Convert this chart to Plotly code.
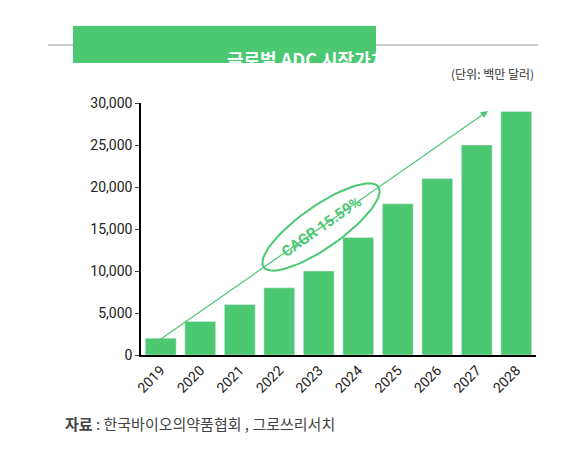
import math
import plotly.graph_objects as go

years = ["2019", "2020", "2021", "2022", "2023", "2024", "2025", "2026", "2027", "2028"]
values = [2000, 4000, 6000, 8000, 10000, 14000, 18000, 21000, 25000, 29000]
y_ticks = [0, 5000, 10000, 15000, 20000, 25000, 30000]

GREEN = "#4cc873"
L, R, T, B = 133, 52, 95, 106
W, H = 580, 453
pw, ph = W - L - R, H - T - B

def px2paper(x, y):
    return (x - L) / pw, (H - B - y) / ph

fig = go.Figure(go.Bar(x=years, y=values, marker_color=GREEN, width=0.78))

# rotated ellipse around the CAGR label, built in pixels then mapped to paper
cx, cy, a, b, ang = 313, 219, 70, 21, math.radians(-35)
pts = []
for i in range(73):
    t = 2 * math.pi * i / 72
    ex, ey = a * math.cos(t), b * math.sin(t)
    pts.append(px2paper(cx + ex * math.cos(ang) - ey * math.sin(ang),
                        cy + ex * math.sin(ang) + ey * math.cos(ang)))
path = "M " + " L ".join(f"{x:.4f},{y:.4f}" for x, y in pts) + " Z"

gx0, gy = px2paper(40, 37)
gx1, _ = px2paper(530, 37)
bx0, by0 = px2paper(65, 55)
bx1, by1 = px2paper(368, 18)
ax1, ay1 = px2paper(480, 103)

fig.update_layout(
    width=W, height=H, margin=dict(l=L, r=R, t=T, b=B),
    plot_bgcolor="white", paper_bgcolor="white", showlegend=False,
    font=dict(family="Noto Sans CJK KR", size=14, color="#222"),
    shapes=[
        dict(type="line", xref="paper", yref="paper", x0=gx0, x1=gx1, y0=gy, y1=gy,
             line=dict(color="#bbbbbb", width=1.5)),
        dict(type="rect", xref="paper", yref="paper", x0=bx0, x1=bx1, y0=by0, y1=by1,
             fillcolor=GREEN, line=dict(width=0)),
    ],
    annotations=[
        dict(xref="paper", yref="paper", x=ax1, y=ay1, ax=150 - 480, ay=333 - 103,
             showarrow=True, arrowhead=2, arrowsize=1.2, arrowwidth=1.2,
             arrowcolor=GREEN, text=""),
        dict(xref="paper", yref="paper", x=(bx0 + bx1) / 2, y=(by0 + by1) / 2,
             text="<b>글로벌 ADC 시장가치</b>", showarrow=False,
             font=dict(color="white", size=18)),
        dict(xref="paper", yref="paper", x=px2paper(528, 0)[0], y=px2paper(0, 55)[1],
             xanchor="right", text="(단위: 백만 달러)", showarrow=False,
             font=dict(size=12, color="#333")),
        dict(xref="paper", yref="paper", x=px2paper(55, 0)[0], y=px2paper(0, 428)[1],
             xanchor="left", text="<b>자료</b> : 한국바이오의약품협회 , 그로쓰리서치",
             showarrow=False, font=dict(size=15, color="#444")),
    ],
)
# ellipse drawn above the arrow (as a filled trace on a hidden overlay)
ex_, ey_ = zip(*pts)
fig.add_trace(go.Scatter(x=ex_, y=ey_, xaxis="x2", yaxis="y2", mode="lines",
                         fill="toself", fillcolor="white",
                         line=dict(color=GREEN, width=2), hoverinfo="skip"))
fig.add_trace(go.Scatter(x=[px2paper(cx, 0)[0]], y=[px2paper(0, cy)[1]], xaxis="x2",
                         yaxis="y2", mode="text", text=[""], hoverinfo="skip"))
fig.add_annotation(xref="x2", yref="y2", x=px2paper(cx, 0)[0], y=px2paper(0, cy)[1],
                   text="<b>CAGR 15.59%</b>", textangle=-35, showarrow=False,
                   font=dict(color=GREEN, size=15, family="Roboto"))
fig.update_layout(
    xaxis2=dict(overlaying="x", range=[0, 1], visible=False, fixedrange=True),
    yaxis2=dict(overlaying="y", range=[0, 1], visible=False, fixedrange=True),
)
fig.update_xaxes(selector=dict(anchor=None))
fig.layout.xaxis.update(showline=True, linecolor="black", linewidth=1.5, tickangle=-45,
                        ticks="", showgrid=False, tickfont=dict(family="Roboto", size=14))
fig.layout.yaxis.update(range=[0, 30000], tickvals=y_ticks, tickformat=",", showline=True,
                        linecolor="black", linewidth=1.5, ticks="outside", ticklen=4,
                        showgrid=False, tickfont=dict(family="Roboto", size=14))

fig.write_html("out.html")
